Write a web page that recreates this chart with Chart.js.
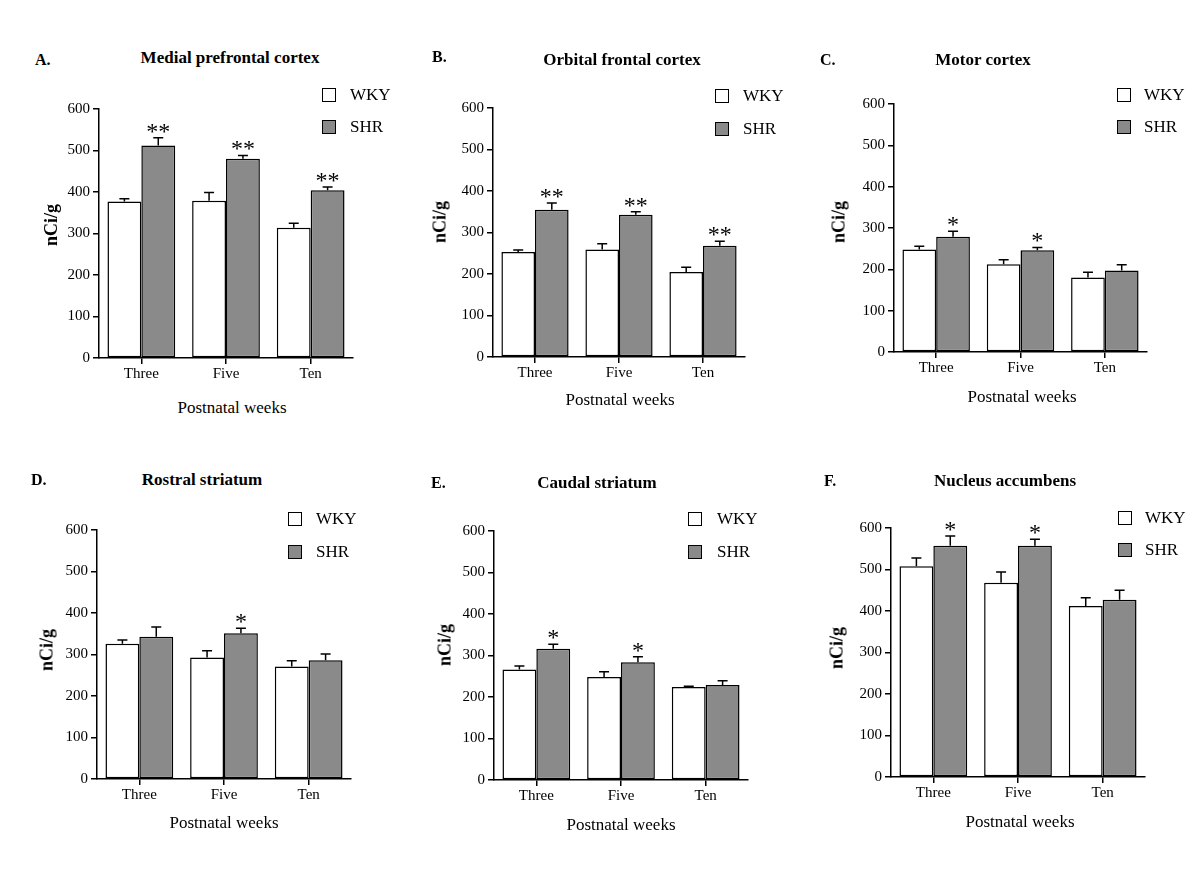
<!DOCTYPE html>
<html lang="en">
<head>
    <meta charset="UTF-8">
    <title>WKY vs SHR binding, postnatal weeks</title>
    <script src="https://cdn.jsdelivr.net/npm/chart.js@4.4.1/dist/chart.umd.min.js"></script>
    <style>
        body {
            margin: 0;
            background: #fff;
            font-family: 'Liberation Serif', 'Times New Roman', serif;
            color: #000;
        }
        #figure {
            position: relative;
            width: 1200px;
            height: 884px;
            overflow: hidden;
        }
        .abs {
            position: absolute;
            white-space: nowrap;
        }
        .letter {
            font-weight: bold;
            font-size: 16px;
            transform: translateY(-50%);
        }
        .title {
            font-weight: bold;
            font-size: 17px;
            transform: translate(-50%, -50%);
        }
        .xtitle {
            font-size: 17px;
            transform: translate(-50%, -50%);
        }
        .ytitle {
            font-size: 18px;
            font-weight: bold;
            transform: translate(-50%, -50%) rotate(-90deg);
        }
        .legend-box {
            width: 14px;
            height: 14px;
            box-sizing: border-box;
            border: 1.5px solid #000;
        }
        .legend-text {
            font-size: 17px;
            transform: translateY(-50%);
        }
    </style>
</head>
<body>
<div id="figure"></div>

<script>
    // Categories and ticks
    const weeks = ['Three', 'Five', 'Ten'];
    const yTicks = [0, 100, 200, 300, 400, 500, 600];
    const seriesNames = ['WKY', 'SHR'];

    // A. Medial prefrontal cortex
    const mpfcWky = [377, 379, 314];
    const mpfcWkyErr = [7, 20, 11];
    const mpfcShr = [512, 480, 404];
    const mpfcShrErr = [19, 8, 8];
    const mpfcStars = ['**', '**', '**'];

    // B. Orbital frontal cortex
    const ofcWky = [253, 259, 205];
    const ofcWkyErr = [5, 14, 11];
    const ofcShr = [355, 343, 268];
    const ofcShrErr = [16, 7, 11];
    const ofcStars = ['**', '**', '**'];

    // C. Motor cortex
    const motorWky = [248, 212, 180];
    const motorWkyErr = [8, 11, 13];
    const motorShr = [279, 246, 197];
    const motorShrErr = [13, 7, 14];
    const motorStars = ['*', '*', ''];

    // D. Rostral striatum
    const rostralWky = [326, 293, 271];
    const rostralWkyErr = [9, 16, 14];
    const rostralShr = [343, 351, 286];
    const rostralShrErr = [23, 12, 15];
    const rostralStars = ['', '*', ''];

    // E. Caudal striatum
    const caudalWky = [266, 248, 224];
    const caudalWkyErr = [9, 13, 2];
    const caudalShr = [316, 284, 229];
    const caudalShrErr = [11, 13, 10];
    const caudalStars = ['*', '*', ''];

    // F. Nucleus accumbens
    const naccWky = [508, 468, 412];
    const naccWkyErr = [20, 26, 20];
    const naccShr = [557, 557, 427];
    const naccShrErr = [24, 16, 23];
    const naccStars = ['*', '*', ''];

    const panels = [
        { letter: 'A.', title: 'Medial prefrontal cortex', wky: mpfcWky, wkyErr: mpfcWkyErr, shr: mpfcShr, shrErr: mpfcShrErr, stars: mpfcStars },
        { letter: 'B.', title: 'Orbital frontal cortex', wky: ofcWky, wkyErr: ofcWkyErr, shr: ofcShr, shrErr: ofcShrErr, stars: ofcStars },
        { letter: 'C.', title: 'Motor cortex', wky: motorWky, wkyErr: motorWkyErr, shr: motorShr, shrErr: motorShrErr, stars: motorStars },
        { letter: 'D.', title: 'Rostral striatum', wky: rostralWky, wkyErr: rostralWkyErr, shr: rostralShr, shrErr: rostralShrErr, stars: rostralStars },
        { letter: 'E.', title: 'Caudal striatum', wky: caudalWky, wkyErr: caudalWkyErr, shr: caudalShr, shrErr: caudalShrErr, stars: caudalStars },
        { letter: 'F.', title: 'Nucleus accumbens', wky: naccWky, wkyErr: naccWkyErr, shr: naccShr, shrErr: naccShrErr, stars: naccStars }
    ];

    // page positions: plot box, text anchors, legend
    const layouts = [
        { ax: 99,  top: 109, bottom: 358, right: 353,  letter: [35, 60],  title: [230, 58],  xt: [232, 408],  yt: [51, 225],  leg: [322, 88, 120, 350] },
        { ax: 493, top: 108, bottom: 357, right: 745,  letter: [432, 57], title: [622, 60],  xt: [620, 400],  yt: [440, 222], leg: [715, 89, 122, 743] },
        { ax: 894, top: 104, bottom: 352, right: 1147, letter: [820, 60], title: [983, 60],  xt: [1022, 397], yt: [839, 222], leg: [1117, 88, 120, 1144] },
        { ax: 97,  top: 530, bottom: 779, right: 351,  letter: [31, 480], title: [202, 480], xt: [224, 823],  yt: [47, 650],  leg: [288, 512, 545, 316] },
        { ax: 494, top: 531, bottom: 780, right: 748,  letter: [431, 483], title: [597, 483], xt: [621, 825], yt: [445, 645], leg: [688, 512, 545, 717] },
        { ax: 891, top: 528, bottom: 777, right: 1145, letter: [824, 481], title: [1005, 481], xt: [1020, 822], yt: [837, 648], leg: [1118, 511, 543, 1145] }
    ];

    const FONT = "'Liberation Serif', 'Times New Roman', serif";
    const SHR_GREY = '#8a8a8a';
    const Y_AXIS_W = 50;
    const X_AXIS_H = 30;

    Chart.defaults.font.family = FONT;
    Chart.defaults.color = '#000';

    // error bars (upper only) and significance stars
    const errorBarPlugin = {
        id: 'errorBars',
        afterDatasetsDraw(chart) {
            const ctx = chart.ctx;
            const yScale = chart.scales.y;
            ctx.save();
            ctx.strokeStyle = '#000';
            ctx.lineWidth = 1.5;
            chart.data.datasets.forEach((ds, i) => {
                const meta = chart.getDatasetMeta(i);
                meta.data.forEach((bar, j) => {
                    const yTop = yScale.getPixelForValue(ds.data[j] + ds.errors[j]);
                    ctx.beginPath();
                    ctx.moveTo(bar.x, bar.y);
                    ctx.lineTo(bar.x, yTop);
                    ctx.moveTo(bar.x - 5, yTop);
                    ctx.lineTo(bar.x + 5, yTop);
                    ctx.stroke();
                    if (ds.stars && ds.stars[j]) {
                        ctx.fillStyle = '#000';
                        ctx.font = '24px ' + FONT;
                        ctx.textAlign = 'center';
                        ctx.textBaseline = 'alphabetic';
                        ctx.fillText(ds.stars[j], bar.x, yTop + 1);
                    }
                });
            });
            ctx.restore();
        }
    };

    const fig = document.getElementById('figure');

    function addText(cls, text, x, y) {
        const el = document.createElement('div');
        el.className = 'abs ' + cls;
        el.textContent = text;
        el.style.left = x + 'px';
        el.style.top = y + 'px';
        fig.appendChild(el);
        return el;
    }

    panels.forEach((p, k) => {
        const L = layouts[k];
        const padL = 30, padT = 40, padR = 20, padB = 10;

        const wrap = document.createElement('div');
        wrap.className = 'abs';
        const cw = (L.right - L.ax) + Y_AXIS_W + padL + padR;
        const ch = (L.bottom - L.top) + padT + X_AXIS_H + padB;
        wrap.style.left = (L.ax - Y_AXIS_W - padL) + 'px';
        wrap.style.top = (L.top - padT) + 'px';
        wrap.style.width = cw + 'px';
        wrap.style.height = ch + 'px';
        const canvas = document.createElement('canvas');
        wrap.appendChild(canvas);
        fig.appendChild(wrap);

        new Chart(canvas, {
            type: 'bar',
            data: {
                labels: weeks,
                datasets: [
                    {
                        label: seriesNames[0],
                        data: p.wky,
                        errors: p.wkyErr,
                        backgroundColor: '#ffffff',
                        borderColor: '#000',
                        borderWidth: 1.5,
                        borderSkipped: false
                    },
                    {
                        label: seriesNames[1],
                        data: p.shr,
                        errors: p.shrErr,
                        stars: p.stars,
                        backgroundColor: SHR_GREY,
                        borderColor: '#000',
                        borderWidth: 1.5,
                        borderSkipped: false
                    }
                ]
            },
            options: {
                responsive: true,
                maintainAspectRatio: false,
                animation: false,
                layout: { padding: { left: padL, top: padT, right: padR, bottom: padB } },
                datasets: {
                    bar: { categoryPercentage: 0.8, barPercentage: 1.0 }
                },
                plugins: {
                    legend: { display: false },
                    tooltip: { enabled: false }
                },
                scales: {
                    x: {
                        offset: true,
                        grid: { display: true, drawOnChartArea: false, offset: false, tickLength: 6, color: '#000', lineWidth: 1.5 },
                        border: { display: true, color: '#000', width: 1.5 },
                        ticks: { color: '#000', font: { size: 15 }, padding: 1, maxRotation: 0 },
                        afterFit: s => { s.height = X_AXIS_H; }
                    },
                    y: {
                        min: 0,
                        max: 600,
                        afterBuildTicks: s => { s.ticks = yTicks.map(v => ({ value: v })); },
                        grid: { display: true, drawOnChartArea: false, tickLength: 6, color: '#000', lineWidth: 1.5 },
                        border: { display: true, color: '#000', width: 1.5 },
                        ticks: { color: '#000', font: { size: 15 }, padding: 3 },
                        afterFit: s => { s.width = Y_AXIS_W; }
                    }
                }
            },
            plugins: [errorBarPlugin]
        });

        // texts
        addText('letter', p.letter, L.letter[0], L.letter[1]);
        addText('title', p.title, L.title[0], L.title[1]);
        addText('xtitle', 'Postnatal weeks', L.xt[0], L.xt[1]);
        addText('ytitle', 'nCi/g', L.yt[0], L.yt[1]);

        // legend
        const fills = ['#ffffff', SHR_GREY];
        [L.leg[1], L.leg[2]].forEach((top, i) => {
            const box = document.createElement('div');
            box.className = 'abs legend-box';
            box.style.left = L.leg[0] + 'px';
            box.style.top = top + 'px';
            box.style.backgroundColor = fills[i];
            fig.appendChild(box);
            addText('legend-text', seriesNames[i], L.leg[3], top + 7);
        });
    });
</script>
</body>
</html>
